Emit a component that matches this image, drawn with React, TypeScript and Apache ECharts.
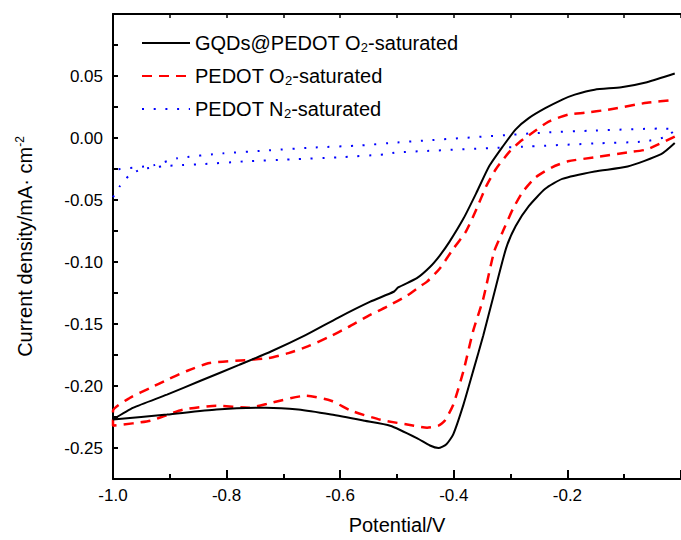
import React, { useEffect, useRef } from "react";
import * as echarts from "echarts";

const seriesNames = ["GQDs@PEDOT O2-saturated", "PEDOT O2-saturated", "PEDOT N2-saturated"];

const yTickValues = [-0.25, -0.2, -0.15, -0.1, -0.05, 0, 0.05];

// GQDs@PEDOT O2-saturated: cathodic sweep (right -> left)
const gqdsCathodic: [number, number][] = [
  [-0.011, -0.004], [-0.035, -0.013], [-0.094, -0.023], [-0.152, -0.027], [-0.209, -0.033],
  [-0.239, -0.041], [-0.268, -0.055], [-0.291, -0.071], [-0.308, -0.089], [-0.331, -0.129],
  [-0.348, -0.159], [-0.366, -0.188], [-0.383, -0.215], [-0.401, -0.239], [-0.413, -0.247],
  [-0.427, -0.25], [-0.442, -0.248], [-0.465, -0.242], [-0.512, -0.232], [-0.557, -0.228],
  [-0.616, -0.223], [-0.674, -0.219], [-0.731, -0.2175], [-0.818, -0.219], [-0.905, -0.223],
  [-1.0, -0.227],
];
// GQDs@PEDOT O2-saturated: anodic sweep (left -> right)
const gqdsAnodic: [number, number][] = [
  [-0.964, -0.2175], [-0.905, -0.207], [-0.847, -0.196], [-0.778, -0.183], [-0.721, -0.172],
  [-0.661, -0.159], [-0.604, -0.145], [-0.547, -0.132], [-0.505, -0.1238], [-0.498, -0.1205],
  [-0.465, -0.113], [-0.442, -0.104], [-0.425, -0.095], [-0.408, -0.084], [-0.383, -0.065],
  [-0.36, -0.044], [-0.338, -0.023], [-0.314, -0.007], [-0.291, 0.007], [-0.268, 0.016],
  [-0.239, 0.024], [-0.209, 0.031], [-0.187, 0.035], [-0.152, 0.039], [-0.105, 0.041],
  [-0.06, 0.045], [-0.011, 0.052],
];

// PEDOT O2-saturated
const pedotO2Cathodic: [number, number][] = [
  [-0.011, 0.0012], [-0.06, -0.0092], [-0.094, -0.0116], [-0.152, -0.0156], [-0.199, -0.0188],
  [-0.227, -0.0236], [-0.256, -0.0317], [-0.279, -0.0437], [-0.296, -0.0573], [-0.314, -0.0757],
  [-0.329, -0.0917], [-0.348, -0.1294], [-0.366, -0.1558], [-0.383, -0.1879], [-0.401, -0.2151],
  [-0.416, -0.228], [-0.427, -0.232], [-0.447, -0.2336], [-0.47, -0.232], [-0.529, -0.2272],
  [-0.581, -0.2199], [-0.616, -0.2119], [-0.661, -0.2079], [-0.721, -0.2135], [-0.761, -0.2175],
  [-0.818, -0.2159], [-0.877, -0.2191], [-0.934, -0.228], [-1.0, -0.232],
];
const pedotO2Anodic: [number, number][] = [
  [-1.0, -0.22], [-0.97, -0.2095], [-0.934, -0.2015], [-0.905, -0.1951], [-0.87, -0.1879],
  [-0.83, -0.1815], [-0.766, -0.1791], [-0.726, -0.1775], [-0.691, -0.1735], [-0.656, -0.1679],
  [-0.621, -0.1607], [-0.586, -0.1526], [-0.552, -0.1438], [-0.517, -0.1358], [-0.482, -0.127],
  [-0.46, -0.1198], [-0.447, -0.1158], [-0.425, -0.1054], [-0.401, -0.0894], [-0.379, -0.0757],
  [-0.36, -0.0573], [-0.343, -0.0389], [-0.326, -0.0252], [-0.303, -0.0116], [-0.285, -0.0036],
  [-0.261, 0.0044], [-0.233, 0.0132], [-0.199, 0.0188], [-0.169, 0.0204], [-0.129, 0.0228],
  [-0.06, 0.0284], [-0.011, 0.0308],
];

// PEDOT N2-saturated
const pedotN2Forward: [number, number][] = [
  [-1.0, -0.0477], [-0.988, -0.0389], [-0.971, -0.03], [-0.95, -0.0252], [-0.912, -0.0228],
  [-0.887, -0.022], [-0.847, -0.0212], [-0.766, -0.0188], [-0.686, -0.0172], [-0.604, -0.0156],
  [-0.522, -0.0132], [-0.5, -0.0116], [-0.268, -0.0068], [-0.152, -0.0044], [-0.065, -0.0028],
  [-0.025, 0.0012], [-0.011, 0.0068],
];
const pedotN2Backward: [number, number][] = [
  [-0.035, 0.0076], [-0.152, 0.006], [-0.239, 0.0044], [-0.5, -0.0036], [-0.564, -0.006],
  [-0.644, -0.0076], [-0.726, -0.01], [-0.807, -0.0124], [-0.887, -0.0164], [-0.929, -0.022],
  [-0.992, -0.0252],
];

const FONT = "'Liberation Sans', Arial, Helvetica, sans-serif";
const GRID_LEFT = 113;
const GRID_RIGHT = -6;
const CHART_W = 681;

export default function App() {
  const ref = useRef<HTMLDivElement>(null);
  useEffect(() => {
    if (!ref.current) return;
    const chart = echarts.init(ref.current, null, { renderer: "svg" });
    const black = "#000";
    const plotWidth = CHART_W - GRID_LEFT - GRID_RIGHT;
    const option: any = {
      animation: false,
      backgroundColor: "#fff",
      textStyle: { fontFamily: FONT },
      grid: { left: GRID_LEFT, right: GRID_RIGHT, top: 14, bottom: 58, containLabel: false },
      legend: {
        orient: "vertical",
        left: 141,
        top: 32,
        padding: 0,
        itemGap: 11,
        itemWidth: 48,
        itemHeight: 14,
        selectedMode: false,
        data: seriesNames,
        itemStyle: { opacity: 0 },
        formatter: (n: string) => n.replace(/([ON])2-/, "$1{sub|2}-"),
        textStyle: {
          fontFamily: FONT, fontSize: 20, color: black, lineHeight: 22,
          rich: { sub: { fontFamily: FONT, fontSize: 13, color: black, lineHeight: 8, verticalAlign: "bottom" } },
        },
      },
      xAxis: [
        {
          type: "value", position: "bottom", min: -1, max: 0, interval: 0.2,
          name: "Potential/V", nameLocation: "middle", nameGap: 36,
          nameTextStyle: { fontFamily: FONT, fontSize: 20, color: black },
          axisLine: { show: true, onZero: false, lineStyle: { color: black, width: 2 } },
          axisTick: { show: true, inside: true, length: 9, lineStyle: { color: black, width: 2 } },
          minorTick: { show: true, splitNumber: 2, length: 5, lineStyle: { color: black, width: 2 } },
          axisLabel: {
            fontFamily: FONT, fontSize: 17, color: black, margin: 8, showMaxLabel: false,
            formatter: (v: number) => v.toFixed(1),
          },
          splitLine: { show: false }, minorSplitLine: { show: false },
        },
        {
          type: "value", position: "top", min: -1, max: 0, interval: 0.1,
          axisLine: { show: true, onZero: false, lineStyle: { color: black, width: 2 } },
          axisTick: { show: true, inside: true, length: 4, lineStyle: { color: black, width: 1.5 } },
          axisLabel: { show: false }, splitLine: { show: false },
        },
      ],
      yAxis: [
        {
          type: "value", position: "left", min: -0.275, max: 0.1, interval: 0.025,
          name: "Current density/mA· cm{sup|-2}", nameLocation: "middle", nameGap: 77,
          nameTextStyle: {
            fontFamily: FONT, fontSize: 20, color: black, lineHeight: 22,
            rich: { sup: { fontFamily: FONT, fontSize: 12, color: black, lineHeight: 8, verticalAlign: "top" } },
          },
          axisLine: { show: true, onZero: false, lineStyle: { color: black, width: 2 } },
          axisTick: { show: true, inside: true, length: 5, lineStyle: { color: black, width: 2 } },
          axisLabel: {
            fontFamily: FONT, fontSize: 17, color: black, margin: 10,
            formatter: (v: number) =>
              Math.abs(Math.round(v * 1000)) % 50 === 0 && v < 0.09 ? v.toFixed(2) : "",
          },
          splitLine: { show: false },
        },
        {
          // major ticks: placed on the left edge of the plot by offsetting a right-side axis
          type: "value", position: "right", offset: -plotWidth, min: -0.275, max: 0.1, splitNumber: 8,
          axisLine: { show: false },
          axisTick: { show: true, inside: false, length: 9, customValues: yTickValues, lineStyle: { color: black, width: 2 } },
          axisLabel: { show: false }, splitLine: { show: false },
        },
      ],
      series: [
        {
          name: seriesNames[0], type: "line", data: [...gqdsCathodic, ...gqdsAnodic],
          symbol: "none", showSymbol: false, smooth: 0.2,
          itemStyle: { color: black }, lineStyle: { color: black, width: 2 }, z: 3,
        },
        {
          name: seriesNames[1], type: "line", data: [...pedotO2Cathodic, ...pedotO2Anodic],
          symbol: "none", showSymbol: false, smooth: 0.2,
          itemStyle: { color: "#ff0000" }, lineStyle: { color: "#ff0000", width: 2.5, type: [10, 7] }, z: 2,
        },
        {
          name: seriesNames[2], type: "line", data: [...pedotN2Forward, ...pedotN2Backward],
          symbol: "none", showSymbol: false, smooth: 0.2,
          itemStyle: { color: "#0000ff" }, lineStyle: { color: "#0000ff", width: 2, type: [2, 9.7], cap: "butt" }, z: 4,
        },
      ],
    };
    chart.setOption(option);
    return () => chart.dispose();
  }, []);
  return <div ref={ref} style={{ position: "fixed", left: 0, top: 0, width: 681, height: 540, background: "#fff" }} />;
}
